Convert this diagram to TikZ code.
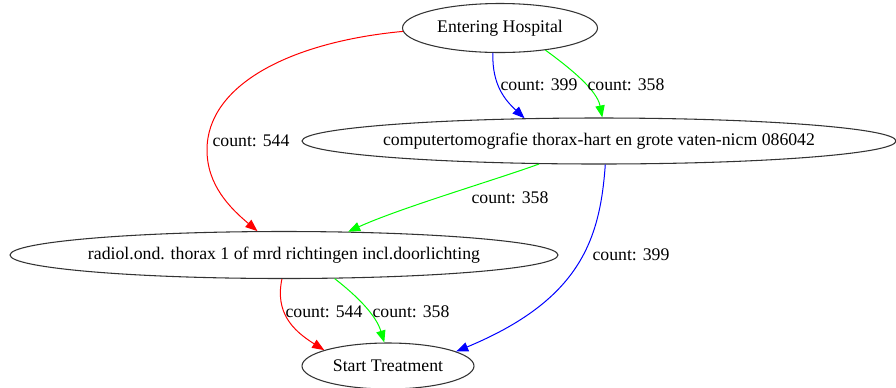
\documentclass[tikz,border=0pt]{standalone}
\usepackage{fontspec}
\setmainfont{Liberation Serif}
\usetikzlibrary{shapes.geometric,arrows.meta}
\definecolor{pred}{HTML}{FF0000}
\definecolor{pgreen}{HTML}{00FF00}
\definecolor{pblue}{HTML}{0000FF}
\begin{document}
\begin{tikzpicture}[x=0.75pt,y=-0.75pt,
  state/.style={ellipse,draw=black!80,line width=0.8pt,inner sep=0pt,
    font=\fontsize{13.3}{16}\selectfont},
  lbl/.style={font=\fontsize{13.3}{16}\selectfont,inner sep=0pt},
  flow/.style={line width=0.75pt,-{Triangle[length=9pt,width=7pt]}}]
\useasboundingbox (0,0) rectangle (896,387);

% states
\node[state,minimum width=146.25pt,minimum height=36.75pt] (eh) at (500,28)
  {\makebox[0pt]{Entering Hospital}};
\node[state,minimum width=445.5pt,minimum height=34.5pt] (ct) at (599,141)
  {\makebox[0pt]{computertomografie thorax-hart en grote vaten-nicm 086042}};
\node[state,minimum width=411pt,minimum height=35.25pt] (rad) at (284,255)
  {\makebox[0pt]{radiol.ond. thorax 1 of mrd richtingen incl.doorlichting}};
\node[state,minimum width=129pt,minimum height=34.5pt] (st) at (388,366)
  {\makebox[0pt]{Start Treatment}};

% transitions
\draw[flow,pred] (eh.182) .. controls (290,42) and (207,85) .. (207,150)
  .. controls (207,185) and (230,208) .. (rad.138);
\draw[flow,pblue] (eh.254) .. controls (492,85) and (505,100) .. (ct.163);
\draw[flow,pgreen] (eh.334) .. controls (570,68) and (597,90) .. (ct.82);
\draw[flow,pgreen] (ct.201) .. controls (495,180) and (400,208) .. (rad.20);
\draw[flow,pblue] (ct.285) .. controls (600,240) and (580,300) .. (st.12);
\draw[flow,pred] (rad.265) .. controls (275,312) and (292,330) .. (st.166);
\draw[flow,pgreen] (rad.335) .. controls (357,296) and (376,315) .. (st.99);

% counts
\node[lbl] (l1) at (251,141) {count: 544};
\node[lbl] (l2) at (539,85) {count: 399};
\node[lbl] (l3) at (626,85) {count: 358};
\node[lbl] (l4) at (510,198) {count: 358};
\node[lbl] (l5) at (631,255) {count: 399};
\node[lbl] (l6) at (324,312) {count: 544};
\node[lbl] (l7) at (411,312) {count: 358};
\end{tikzpicture}
\end{document}
